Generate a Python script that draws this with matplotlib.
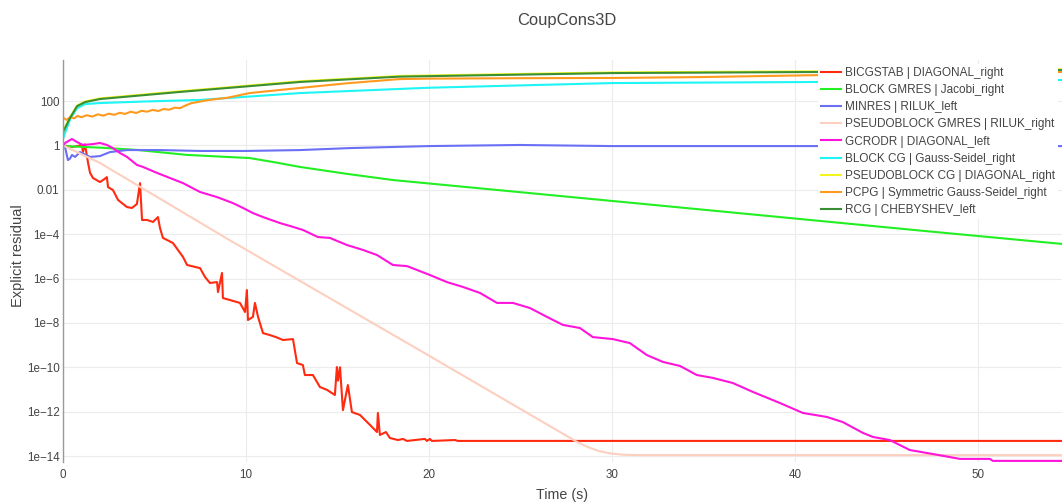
import numpy as np
import matplotlib.pyplot as plt

plt.rcParams['font.family'] = ['Liberation Sans', 'DejaVu Sans']

# Час (с) і log10 явного залишку для кожного розв'язувача.
bicgstab_t = [0, 0.55, 1.04, 1.09, 1.2, 1.37, 1.48, 1.64, 2.02, 2.19, 2.4, 2.46, 2.73, 3.01,
              3.5, 3.77, 4.04, 4.21, 4.32, 4.59, 4.92, 5.19, 5.3, 5.46, 5.68, 6.01, 6.28, 6.56,
              6.78, 7.49, 7.76, 8.03, 8.42, 8.47, 8.69, 8.74, 9.13, 9.67, 9.95, 10.05, 10.11,
              10.38, 10.49, 10.66, 10.93, 11.31, 11.64, 12.02, 12.57, 12.79, 13.11, 13.22,
              13.66, 14.04, 14.43, 14.86, 14.97, 15.03, 15.14, 15.3, 15.57, 15.79, 16.23,
              16.78, 17.16, 17.21, 17.32, 17.65, 17.87, 18.31, 18.58, 18.8, 19.78, 19.89,
              20.05, 20.16, 21.42, 21.58, 54.6]
bicgstab_log = [0.0, -0.07, 0.02, -0.3, 0.05, -0.79, -1.24, -1.47, -1.65, -1.56, -1.43, -1.88,
                -2.01, -2.46, -2.78, -2.82, -2.64, -1.7, -3.36, -3.36, -3.45, -3.23, -3.72,
                -4.17, -4.26, -4.4, -4.71, -5.03, -5.39, -5.53, -5.93, -6.2, -6.16, -6.61,
                -5.75, -6.88, -6.97, -7.1, -7.51, -6.52, -7.87, -7.73, -7.1, -7.73, -8.46,
                -8.55, -8.64, -8.77, -8.73, -9.81, -9.9, -10.35, -10.35, -10.89, -11.02,
                -11.25, -9.99, -10.6, -10.0, -11.93, -10.8, -12.02, -12.15, -12.6, -12.92,
                -12.06, -13.05, -12.92, -13.19, -13.28, -13.23, -13.32, -13.23, -13.32,
                -13.23, -13.32, -13.28, -13.32, -13.32]

gmres_t = [0, 2.0, 4.0, 6.8, 8.5, 10.2, 11.5, 12.95, 15.5, 18.03, 25.52, 32.0, 39.18, 47.0, 54.6]
gmres_log = [-0.03, -0.1, -0.2, -0.43, -0.5, -0.57, -0.75, -0.97, -1.28, -1.56, -2.15, -2.66,
             -3.23, -3.85, -4.44]

minres_t = [0, 0.11, 0.27, 0.38, 0.49, 0.66, 0.93, 1.48, 2.02, 2.57, 3.5, 5.3, 7.49, 10.0,
            12.95, 15.68, 20.0, 24.97, 30.0, 41.4, 54.6]
minres_log = [0.0, -0.07, -0.66, -0.6, -0.43, -0.52, -0.3, -0.52, -0.48, -0.3, -0.21, -0.21,
              -0.25, -0.25, -0.21, -0.12, -0.03, 0.02, -0.03, -0.03, -0.03]

pgmres_t = [0, 0.5, 2.02, 8.96, 20.05, 28.1, 28.7, 29.3, 29.9, 30.6, 31.5, 54.6]
pgmres_log = [0.0, -0.2, -0.79, -4.2, -9.5, -13.37, -13.6, -13.78, -13.88, -13.94, -13.96, -13.96]

gcrodr_t = [0, 0.11, 0.49, 0.77, 1.09, 1.64, 2.02, 2.4, 2.73, 3.11, 3.5, 4.04, 4.37, 5.14,
            5.85, 6.56, 7.49, 8.42, 9.29, 9.84, 10.38, 10.93, 11.86, 12.4, 13.11, 13.93,
            14.59, 15.52, 16.39, 17.16, 18.03, 18.8, 20.05, 20.98, 21.86, 22.79, 23.72,
            24.59, 25.52, 26.45, 27.32, 28.25, 28.96, 30.05, 30.98, 31.91, 32.79, 33.72,
            34.64, 35.52, 36.61, 37.7, 39.18, 40.44, 41.75, 42.62, 43.72, 44.26, 45.19,
            46.28, 47.54, 49.02, 50.66, 50.82, 54.6]
gcrodr_log = [0.0, 0.11, 0.29, 0.15, 0.02, 0.06, 0.11, 0.02, -0.12, -0.34, -0.52, -0.88,
              -0.97, -1.24, -1.47, -1.7, -2.1, -2.33, -2.6, -2.82, -3.05, -3.23, -3.5, -3.63,
              -3.81, -4.13, -4.17, -4.49, -4.71, -4.94, -5.39, -5.44, -5.84, -6.16, -6.38,
              -6.65, -7.1, -7.1, -7.33, -7.73, -8.09, -8.23, -8.64, -8.73, -8.91, -9.45,
              -9.76, -9.94, -10.35, -10.48, -10.71, -11.11, -11.61, -12.06, -12.24, -12.47,
              -12.96, -13.14, -13.28, -13.73, -13.91, -14.13, -14.13, -14.22, -14.22]

bcg_t = [0, 0.11, 0.4, 0.77, 1.2, 2.02, 4.5, 7.49, 12.95, 20.0, 30.0, 41.4, 54.6]
bcg_log = [0.3, 0.56, 1.2, 1.68, 1.86, 1.91, 1.98, 2.05, 2.36, 2.6, 2.81, 2.86, 2.95]

pcg_t = [0, 0.11, 0.38, 0.77, 1.2, 2.02, 6.39, 12.95, 18.4, 30.0, 41.4, 54.6]
pcg_log = [0.62, 0.82, 1.27, 1.8, 1.98, 2.12, 2.44, 2.89, 3.13, 3.29, 3.34, 3.43]

pcpg_t = [0, 0.2, 0.4, 0.6, 0.8, 1.0, 1.3, 1.6, 1.9, 2.2, 2.5, 2.8, 3.1, 3.4, 3.7, 4.0,
          4.3, 4.6, 4.9, 5.2, 5.5, 5.8, 6.1, 6.4, 6.7, 7.0, 7.5, 8.0, 9.0, 10.2, 12.95,
          15.5, 18.4, 20.05, 25.0, 30.0, 34.8, 41.4, 48.0, 54.6]
pcpg_log = [1.25, 1.15, 1.28, 1.22, 1.33, 1.27, 1.36, 1.3, 1.4, 1.34, 1.43, 1.38, 1.47, 1.42,
            1.52, 1.46, 1.56, 1.52, 1.6, 1.55, 1.64, 1.61, 1.7, 1.68, 1.8, 1.9, 1.98, 2.05,
            2.15, 2.36, 2.59, 2.8, 2.99, 3.01, 3.03, 3.04, 3.08, 3.17, 3.24, 3.31]

rcg_t = [0, 0.11, 0.38, 0.77, 1.2, 2.02, 6.39, 12.95, 18.4, 30.0, 41.4, 54.6]
rcg_log = [0.6, 0.78, 1.23, 1.77, 1.95, 2.09, 2.41, 2.86, 3.1, 3.26, 3.31, 3.4]

series = [
    ("BICGSTAB | DIAGONAL_right", bicgstab_t, bicgstab_log, "#ff2a0f"),
    ("BLOCK GMRES | Jacobi_right", gmres_t, gmres_log, "#22f022"),
    ("MINRES | RILUK_left", minres_t, minres_log, "#6a70f5"),
    ("PSEUDOBLOCK GMRES | RILUK_right", pgmres_t, pgmres_log, "#fdcfbf"),
    ("GCRODR | DIAGONAL_left", gcrodr_t, gcrodr_log, "#ff14dc"),
    ("BLOCK CG | Gauss-Seidel_right", bcg_t, bcg_log, "#1ef5f5"),
    ("PSEUDOBLOCK CG | DIAGONAL_right", pcg_t, pcg_log, "#f5f51e"),
    ("PCPG | Symmetric Gauss-Seidel_right", pcpg_t, pcpg_log, "#ff9a1e"),
    ("RCG | CHEBYSHEV_left", rcg_t, rcg_log, "#3a8f35"),
]

ytick_exp = [2, 0, -2, -4, -6, -8, -10, -12, -14]
ytick_labels = ["100", "1", "0.01", "1e\u22124", "1e\u22126", "1e\u22128",
                "1e\u221210", "1e\u221212", "1e\u221214"]
xticks = [0, 10, 20, 30, 40, 50]

W, H = 1062, 503
fig = plt.figure(figsize=(W / 100, H / 100), dpi=100)
ax = fig.add_axes([63 / W, 1 - 462 / H, 1 - 63 / W, (462 - 60) / H])

for name, t, lg, col in series:
    ax.plot(t, 10 ** np.array(lg), color=col, lw=1.5, label=name, solid_joinstyle='round')

ax.set_yscale('log')
ax.set_xlim(0, 54.6)
ax.set_ylim(10 ** -14.27, 10 ** 3.85)
ax.set_yticks([10.0 ** e for e in ytick_exp])
ax.set_yticklabels(ytick_labels)
ax.yaxis.set_minor_locator(plt.NullLocator())
ax.set_xticks(xticks)
ax.set_xticklabels([str(v) for v in xticks])

ax.grid(True, color='#ececec', lw=0.8)
ax.set_axisbelow(True)
for s in ['top', 'right', 'bottom']:
    ax.spines[s].set_visible(False)
ax.spines['left'].set_color('#9a9a9a')
ax.spines['left'].set_linewidth(1.0)
ax.tick_params(length=0, labelsize=8.4, labelcolor='#444444')
ax.tick_params(axis='y', pad=2.5)
ax.tick_params(axis='x', pad=5)

fig.text(567 / W, 1 - 21 / H, "CoupCons3D", ha='center', va='center', fontsize=11.9, color='#444444')
fig.text(562 / W, 1 - 495 / H, "Time (s)", ha='center', va='center', fontsize=10.3, color='#444444')
fig.text(18 / W, 1 - 256 / H, "Explicit residual", ha='center', va='center', rotation=90,
         fontsize=10.5, color='#444444')

leg = ax.legend(loc='upper left', bbox_to_anchor=(818 / W, 1 - 64 / H), bbox_transform=fig.transFigure,
                fontsize=8.45, frameon=True, framealpha=1, facecolor='white', edgecolor='none',
                fancybox=False, borderpad=0.25, borderaxespad=0, handlelength=1.72,
                handletextpad=0.3, labelspacing=0.44)
for txt in leg.get_texts():
    txt.set_color('#444444')
leg.set_zorder(10)

fig.savefig("out.png", dpi=100)
